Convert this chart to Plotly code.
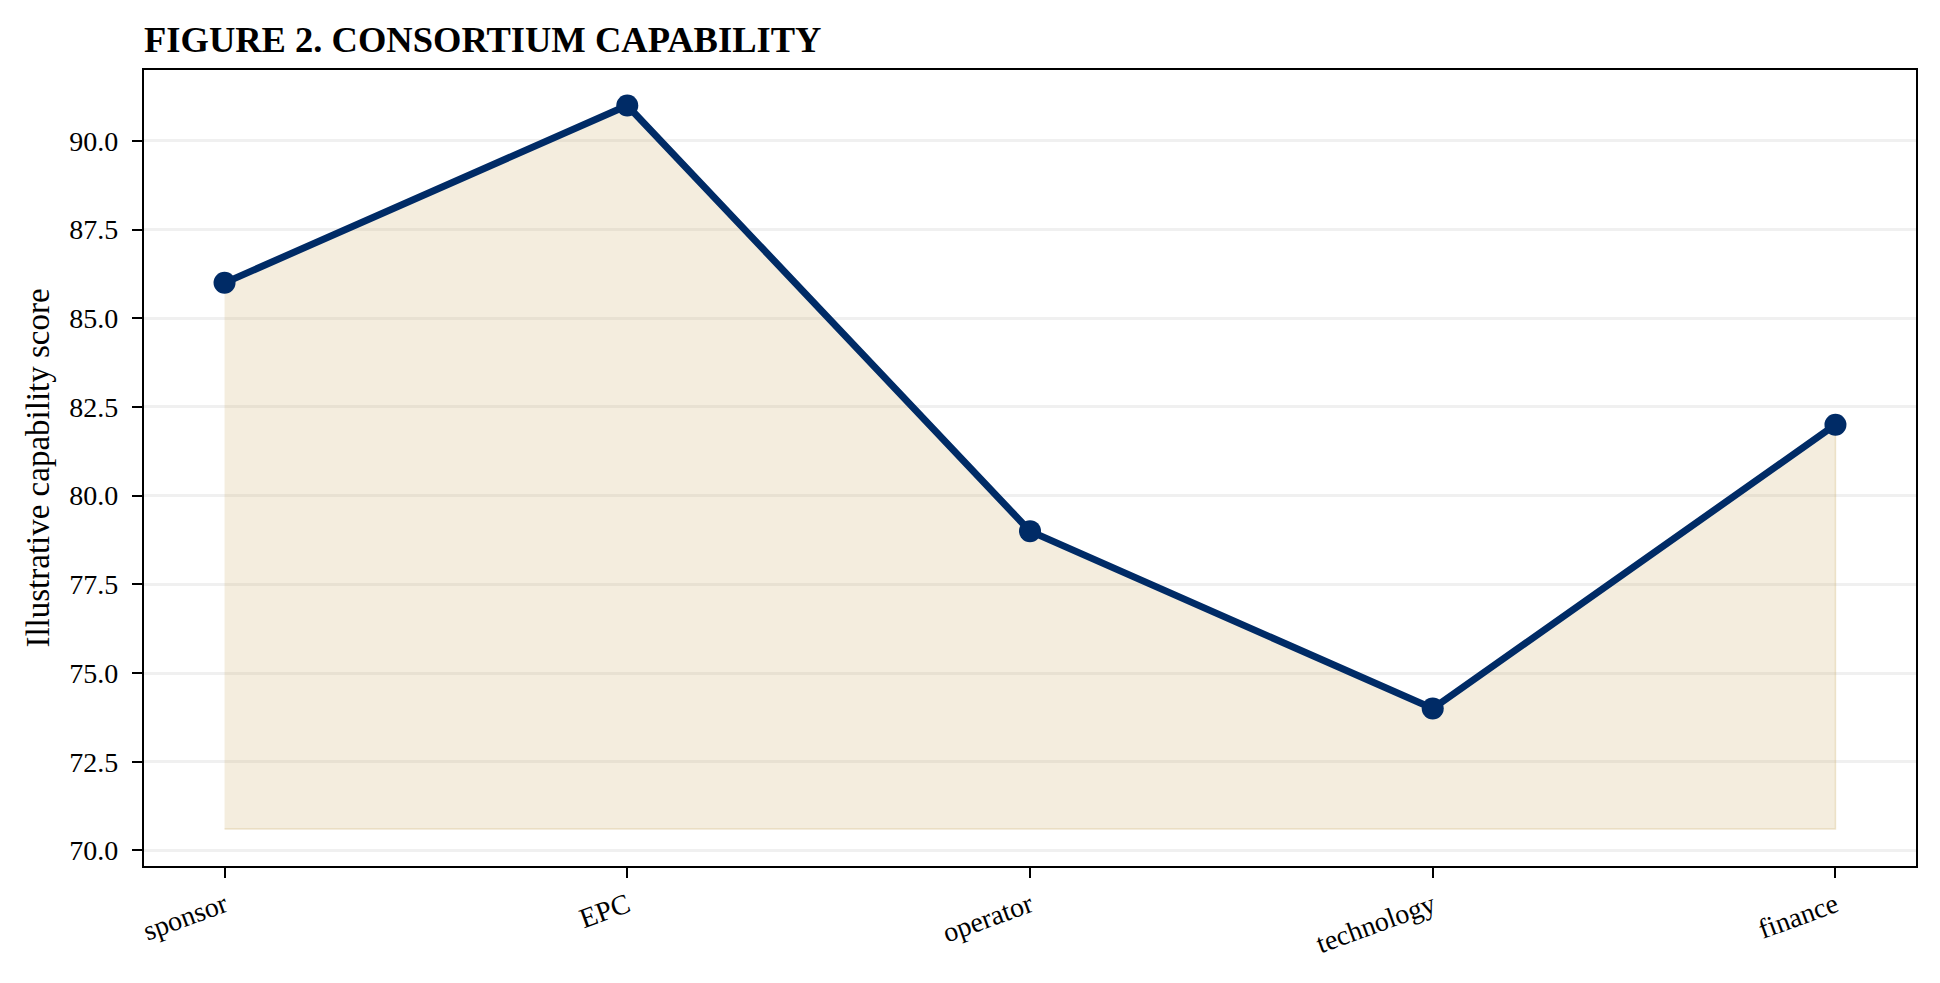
#!/usr/bin/env python3

import plotly.graph_objects as go


#######################################
###               data              ###
#######################################
roles = ['sponsor', 'EPC', 'operator', 'technology', 'finance']
scores = [86, 91, 79, 74, 82]
fill_base = 70.6
y_ticks = [70.0, 72.5, 75.0, 77.5, 80.0, 82.5, 85.0, 87.5, 90.0]

title = "FIGURE 2. CONSORTIUM CAPABILITY"
y_title = "Illustrative capability score"

navy = '#002B66'
font_family = "Liberation Serif, Times New Roman, serif"


#######################################
###             traces              ###
#######################################
# shaded area under the line, down to the base value
area = go.Scatter(
    x=roles + [roles[-1], roles[0]],
    y=scores + [fill_base, fill_base],
    fill='toself',
    fillcolor='rgba(205,175,105,0.22)',
    line=dict(color='rgba(205,175,105,0.3)', width=1.5),
    mode='lines',
    hoverinfo='skip',
    showlegend=False,
)

line = go.Scatter(
    x=roles,
    y=scores,
    mode='lines+markers',
    line=dict(color=navy, width=7),
    marker=dict(color=navy, size=22),
    showlegend=False,
)


#######################################
###             layout              ###
#######################################
fig_layout = go.Layout(
    width=1940,
    height=983,
    margin=dict(l=144, r=24, t=70, b=117),
    paper_bgcolor='white',
    plot_bgcolor='white',
    font=dict(family=font_family, size=28, color='black'),
    title=dict(
        text="<b>{0}</b>".format(title),
        font=dict(family=font_family, size=36.5, color='black'),
        x=0, xref='paper', xanchor='left',
        y=1 - 39/983, yref='container', yanchor='middle',
    ),
    xaxis=dict(
        type='category',
        range=[-0.2, len(roles) - 0.8],
        showgrid=False,
        showline=True, linecolor='black', linewidth=2.2, mirror=True,
        ticks='outside', ticklen=10, tickwidth=2.2, tickcolor='black',
        tickangle=-20,
        tickfont=dict(size=28),
        zeroline=False,
    ),
    yaxis=dict(
        range=[69.56, 92.0],
        tickvals=y_ticks,
        ticktext=["{0:.1f}".format(v) for v in y_ticks],
        showgrid=True, gridcolor='#F0F0F0', gridwidth=2.5,
        showline=True, linecolor='black', linewidth=2.2, mirror=True,
        ticks='outside', ticklen=10, tickwidth=2.2, tickcolor='black',
        ticklabelstandoff=8,
        tickfont=dict(size=28),
        zeroline=False,
        title=dict(text=y_title, font=dict(size=33), standoff=10),
    ),
)

fig = go.Figure(data=[area, line], layout=fig_layout)

fig.write_html("out.html", config={'displayModeBar': False},
               post_script="document.body.style.margin='0';")
